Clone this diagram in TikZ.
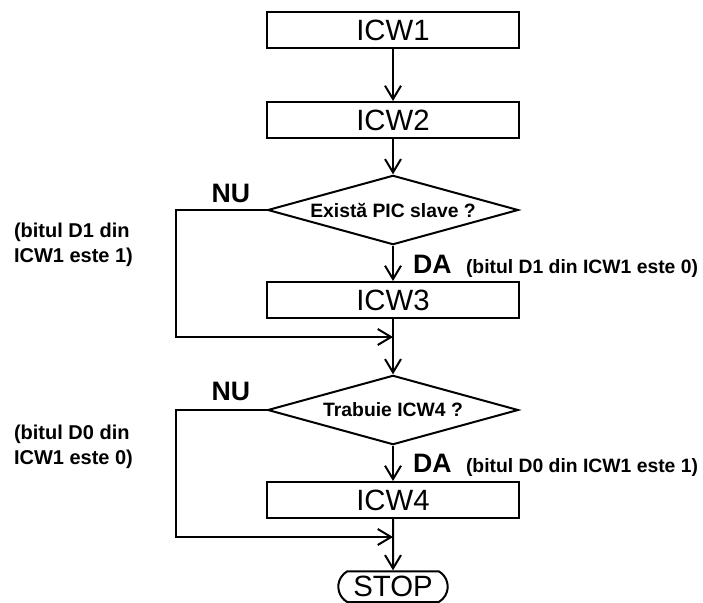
\documentclass[tikz,border=0pt]{standalone}
\usepackage{fontspec}
\setmainfont{Liberation Sans}
\usetikzlibrary{shapes.geometric,shapes.misc,arrows.meta,positioning}

\begin{document}
\begin{tikzpicture}[
	x=0.75pt, y=-0.75pt,
	node distance=67.5pt,
	line width=1.5pt,
	>={Straight Barb[length=10pt,width=12pt]},
	box/.style={draw, rectangle, minimum width=189pt, minimum height=27pt, inner sep=0pt, font=\fontsize{22}{26}\selectfont},
	decision/.style={draw, diamond, aspect=3.6, minimum width=188pt, minimum height=52pt, inner sep=0pt, font=\bfseries\fontsize{14.5}{17}\selectfont},
	terminal/.style={draw, rounded rectangle, rounded rectangle arc length=120, minimum width=82pt, minimum height=23pt, inner sep=0pt, font=\fontsize{22}{26}\selectfont},
	yesno/.style={inner sep=0pt, font=\bfseries\fontsize{20}{24}\selectfont},
	note/.style={inner sep=0pt, align=left, font=\bfseries\fontsize{15}{19}\selectfont}
	]
	\useasboundingbox (0,0) rectangle (703,603);
	% Nodes
	\node[box] (icw1) at (393,30) {ICW1};
	\node[box, below of=icw1] (icw2) {ICW2};
	\node[decision, below of=icw2] (slave) {Există PIC slave ?};
	\node[box, below of=slave] (icw3) {ICW3};
	\node[decision, below of=icw3, node distance=82.5pt] (need4) {Trabuie ICW4 ?};
	\node[box, below of=need4] (icw4) {ICW4};
	\node[terminal, below of=icw4, node distance=65pt] (stop) {STOP};
	
	% Labels
	\node[yesno, anchor=base] (nu1) at (231,202) {NU};
	\node[yesno, anchor=base west] (da1) at (412,273) {DA};
	\node[note, font=\bfseries\fontsize{14.5}{17}\selectfont, anchor=base west] (yes1) at (465,273) {(bitul D1 din ICW1 este 0)};
	\node[note, anchor=west] (no1) at (13,245) {(bitul D1 din\\ICW1 este 1)};
	\node[yesno, anchor=base] (nu2) at (231,400) {NU};
	\node[yesno, anchor=base west] (da2) at (412,472) {DA};
	\node[note, font=\bfseries\fontsize{14.5}{17}\selectfont, anchor=base west] (yes2) at (465,472) {(bitul D0 din ICW1 este 1)};
	\node[note, anchor=west] (no2) at (13,447) {(bitul D0 din\\ICW1 este 0)};
	
	% Arrows
	\draw[->] (icw1) -- (icw2);
	\draw[->] (icw2) -- (slave);
	\draw[->] (slave) -- (icw3);
	\draw[->] (icw3) -- (need4);
	\draw[->] (need4) -- (icw4);
	\draw[->] (icw4) -- (stop);
	
	% NU branches
	\coordinate[below=13.5pt of icw3.south] (join3);
	\coordinate[below=13.5pt of icw4.south] (join4);
	\draw[->] (slave.west) -- ++(-91,0) |- (join3);
	\draw[->] (need4.west) -- ++(-91,0) |- (join4);
\end{tikzpicture}
\end{document}
